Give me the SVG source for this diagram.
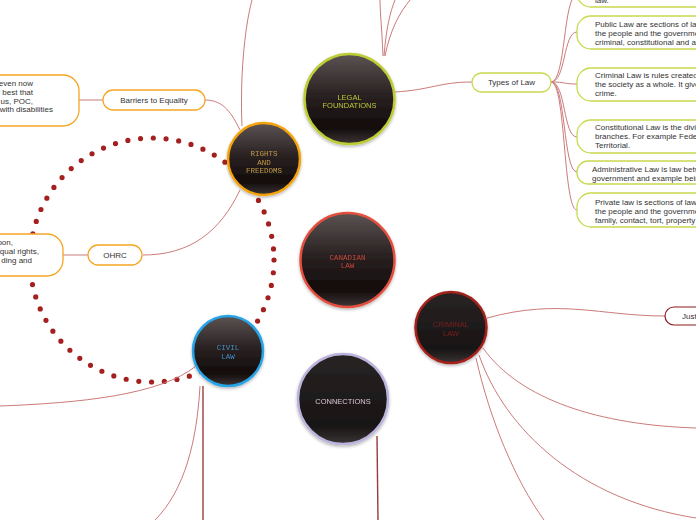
<svg xmlns="http://www.w3.org/2000/svg" width="696" height="520" viewBox="0 0 696 520">
<defs>
<linearGradient id="g1" x1="0" y1="0" x2="0" y2="1">
<stop offset="0" stop-color="#5c5353"/>
<stop offset="0.45" stop-color="#2a2222"/>
<stop offset="0.82" stop-color="#120b0b"/>
<stop offset="1" stop-color="#3e3636"/>
</linearGradient>
<linearGradient id="g2" x1="0" y1="0" x2="0" y2="1">
<stop offset="0" stop-color="#282424"/>
<stop offset="0.8" stop-color="#181414"/>
<stop offset="1" stop-color="#3a3535"/>
</linearGradient>
<filter id="sh" x="-20%" y="-20%" width="140%" height="140%">
<feDropShadow dx="0" dy="1.5" stdDeviation="1.5" flood-color="#000" flood-opacity="0.3"/>
</filter>
</defs>
<style>
.c{fill:none;stroke:#cc7a7a;stroke-width:1}
.cd{fill:none;stroke:#9c3a3a;stroke-width:1.4}
.ob{fill:#fff;stroke:#f5a623;stroke-width:1.3}
.yb{fill:#fff;stroke:#c9d94e;stroke-width:1.3}
.t{font-family:"Liberation Sans",Arial,sans-serif;font-size:8px;fill:#333}
.tm{font-family:"Liberation Mono","Courier New",monospace;font-size:7.5px;text-anchor:middle}
.ts{font-family:"Liberation Sans",Arial,sans-serif;font-size:7.5px;text-anchor:middle}
</style>
<rect width="696" height="520" fill="#fff"/>
<circle cx="152" cy="260" r="122" fill="none" stroke="#a3201f" stroke-width="5.2" stroke-linecap="round" stroke-dasharray="0 12.8"/>
<g id="connectors">
<path class="c" d="M79,100 L103,100"/>
<path class="c" d="M63,255 L88,255"/>
<path class="c" d="M205,100 C224,100 232,114 240,130"/>
<path class="c" d="M143,255 C190,255 220,232 240,190"/>
<path class="c" d="M242,126 C240,80 244,30 252,0"/>
<path class="c" d="M383,56 C382,30 380,12 380,0"/>
<path class="c" d="M384,56 C386,30 390,12 395,0"/>
<path class="c" d="M385,56 C390,30 400,12 410,0"/>
<path class="c" d="M395,92 C430,90 440,82 472,82"/>
<path class="c" d="M551,82 C566,82 563,-5 577,-5"/>
<path class="c" d="M551,82 C566,82 563,32 577,32"/>
<path class="c" d="M551,82 C566,82 563,84 577,84"/>
<path class="c" d="M551,82 C566,82 563,137 577,137"/>
<path class="c" d="M551,82 C566,82 563,172 577,172"/>
<path class="c" d="M551,82 C566,82 563,210 577,210"/>
<path class="c" d="M487,318 C560,298 600,316 665,316"/>
<path class="c" d="M483,348 C520,400 600,425 696,428"/>
<path class="c" d="M479,355 C505,430 580,500 696,518"/>
<path class="c" d="M476,358 C490,420 515,480 544,520"/>
<path class="c" d="M196,366 C160,395 80,403 0,406"/>
<path class="cd" d="M203,386 L203,520"/>
<path class="c" d="M200,386 C197,440 185,490 155,520"/>
<path class="cd" d="M377,436 L378,520"/>
</g>
<g id="barrier-note">
<rect class="ob" x="-40" y="75" width="119" height="51" rx="16"/>
<text class="t" text-anchor="end" x="33" y="86">even now</text>
<text class="t" text-anchor="end" x="33" y="95">d best that</text>
<text class="t" text-anchor="end" x="33" y="104">us, POC,</text>
<text class="t" text-anchor="end" x="53" y="112">with disabilities</text>
</g>
<g id="barriers">
<rect class="ob" x="103" y="90" width="102" height="20" rx="10"/>
<text class="t" x="154" y="103" text-anchor="middle">Barriers to Equality</text>
</g>
<g id="ohrc-note">
<rect class="ob" x="-40" y="234" width="103" height="42" rx="16"/>
<text class="t" text-anchor="end" x="13" y="245">oon,</text>
<text class="t" text-anchor="end" x="39" y="254">qual rights,</text>
<text class="t" text-anchor="end" x="32" y="263">ding and</text>
</g>
<g id="ohrc">
<rect class="ob" x="88" y="245" width="54" height="20" rx="10"/>
<text class="t" x="115" y="258" text-anchor="middle">OHRC</text>
</g>
<g id="types">
<rect class="yb" x="472" y="73" width="79" height="19" rx="9.5"/>
<text class="t" x="511.5" y="85" text-anchor="middle">Types of Law</text>
</g>
<g id="type-top">
<rect class="yb" x="577" y="-30" width="200" height="37" rx="14"/>
<text class="t" x="595" y="3">law.</text>
</g>
<g id="public">
<rect class="yb" x="577" y="16" width="200" height="33" rx="14"/>
<text class="t" x="595" y="27">Public Law are sections of law</text>
<text class="t" x="595" y="36">the people and the government</text>
<text class="t" x="595" y="45">criminal, constitutional and a</text>
</g>
<g id="criminal-def">
<rect class="yb" x="577" y="68" width="200" height="33" rx="14"/>
<text class="t" x="595" y="78">Criminal Law is rules created</text>
<text class="t" x="595" y="87">the society as a whole. It gives</text>
<text class="t" x="595" y="96">crime.</text>
</g>
<g id="constitutional">
<rect class="yb" x="577" y="120" width="200" height="33" rx="14"/>
<text class="t" x="595" y="130">Constitutional Law is the division</text>
<text class="t" x="595" y="139">branches. For example Federal</text>
<text class="t" x="595" y="148">Territorial.</text>
</g>
<g id="administrative">
<rect class="yb" x="577" y="161" width="200" height="23" rx="11"/>
<text class="t" x="592" y="172">Administrative Law is law between</text>
<text class="t" x="592" y="181">government and example being</text>
</g>
<g id="private">
<rect class="yb" x="577" y="193" width="200" height="34" rx="14"/>
<text class="t" x="595" y="205">Private law is sections of law</text>
<text class="t" x="595" y="214">the people and the government</text>
<text class="t" x="595" y="223">family, contact, tort, property</text>
</g>
<g id="just">
<rect x="665" y="307" width="60" height="18" rx="9" fill="#fff" stroke="#8b1a1a" stroke-width="1.2"/>
<text class="t" x="682" y="319">Just</text>
</g>
<g id="rights" filter="url(#sh)">
<circle cx="264" cy="159" r="36" fill="url(#g1)" stroke="#f5a30f" stroke-width="2.5"/>
<text class="tm" x="264" y="156" fill="#c29a45" font-size="7">RIGHTS</text>
<text class="tm" x="264" y="164.5" fill="#c29a45" font-size="7">AND</text>
<text class="tm" x="264" y="173" fill="#c29a45" font-size="7">FREEDOMS</text>
</g>
<g id="legal" filter="url(#sh)">
<circle cx="349.5" cy="99" r="45" fill="url(#g1)" stroke="#bccd36" stroke-width="2.5"/>
<text class="ts" x="349.5" y="100" fill="#b8c838">LEGAL</text>
<text class="ts" x="349.5" y="107.5" fill="#b8c838">FOUNDATIONS</text>
</g>
<g id="canadian" filter="url(#sh)">
<circle cx="347.5" cy="260" r="47" fill="url(#g1)" stroke="#e4503e" stroke-width="2.5"/>
<text class="tm" x="347.5" y="259.5" fill="#c8473c">CANADIAN</text>
<text class="tm" x="347.5" y="268" fill="#c8473c">LAW</text>
</g>
<g id="criminal" filter="url(#sh)">
<circle cx="451" cy="327.5" r="35.5" fill="url(#g2)" stroke="#a3201f" stroke-width="2.5"/>
<text class="ts" x="451" y="327" fill="#7e1d1d" font-size="8">CRIMINAL</text>
<text class="ts" x="451" y="336" fill="#7e1d1d" font-size="8">LAW</text>
</g>
<g id="civil" filter="url(#sh)">
<circle cx="228" cy="351" r="35" fill="url(#g1)" stroke="#27a4e6" stroke-width="2.5"/>
<text class="tm" x="228" y="350" fill="#3d8fc4" font-size="7">CIVIL</text>
<text class="tm" x="228" y="358.5" fill="#3d8fc4" font-size="7">LAW</text>
</g>
<g id="connections" filter="url(#sh)">
<circle cx="343" cy="399" r="45" fill="url(#g2)" stroke="#bcb4dc" stroke-width="2.5"/>
<text class="ts" x="343" y="403.5" fill="#dcc6d6" font-size="7">CONNECTIONS</text>
</g>
</svg>
